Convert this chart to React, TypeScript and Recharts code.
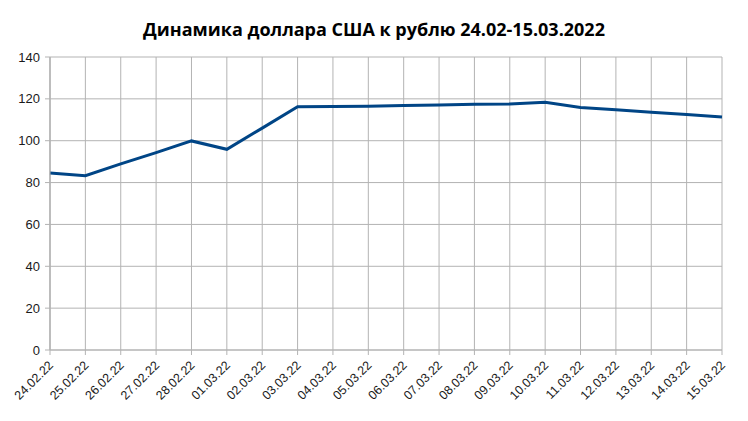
import { CartesianGrid, Line, LineChart, XAxis, YAxis } from "recharts";

const dates = [
  "24.02.22", "25.02.22", "26.02.22", "27.02.22", "28.02.22", "01.03.22", "02.03.22",
  "03.03.22", "04.03.22", "05.03.22", "06.03.22", "07.03.22", "08.03.22", "09.03.22",
  "10.03.22", "11.03.22", "12.03.22", "13.03.22", "14.03.22", "15.03.22",
];

const usdRub = [
  84.6, 83.3, 88.9, 94.3, 99.9, 95.9, 106.0, 116.2, 116.3, 116.5,
  116.8, 117.1, 117.4, 117.6, 118.4, 115.9, 114.8, 113.6, 112.5, 111.3,
];

const yTicks = [0, 20, 40, 60, 80, 100, 120, 140];

const data = dates.map((date, i) => ({ date, value: usdRub[i] }));

const GRID = "#b3b3b3";

function DateTick({ x, y, payload }: { x?: number; y?: number; payload?: { value: string } }) {
  const tx = Number(x) + 4;
  const ty = Number(y) + 9;
  return (
    <text
      x={tx}
      y={ty}
      textAnchor="end"
      fill="#1a1a1a"
      fontSize={12.5}
      fontFamily="Liberation Sans, Arial, sans-serif"
      transform={`rotate(-45 ${tx} ${ty})`}
    >
      {payload?.value}
    </text>
  );
}

export default function App() {
  return (
    <div style={{ position: "relative", width: 748, height: 421, background: "#fff" }}>
      <style>{"body{margin:0}"}</style>
      <div
        style={{
          position: "absolute",
          top: 17,
          left: 0,
          width: 748,
          textAlign: "center",
          fontFamily: "Open Sans, sans-serif",
          fontWeight: 700,
          fontSize: 18,
          color: "#000",
        }}
      >
        Динамика доллара США к рублю 24.02-15.03.2022
      </div>
      <LineChart width={748} height={421} data={data} margin={{ top: 57, right: 26, bottom: 0, left: 0 }}>
        <CartesianGrid stroke={GRID} />
        <XAxis
          dataKey="date"
          interval={0}
          height={71}
          stroke={GRID}
          tickSize={5}
          tick={<DateTick />}
        />
        <YAxis
          domain={[0, 140]}
          ticks={yTicks}
          width={50}
          stroke={GRID}
          tickSize={5}
          tickMargin={5}
          tick={{ fill: "#1a1a1a", fontSize: 13, fontFamily: "Liberation Sans, Arial, sans-serif" }}
        />
        <Line
          type="linear"
          dataKey="value"
          stroke="#004586"
          strokeWidth={3}
          dot={false}
          isAnimationActive={false}
        />
      </LineChart>
    </div>
  );
}
